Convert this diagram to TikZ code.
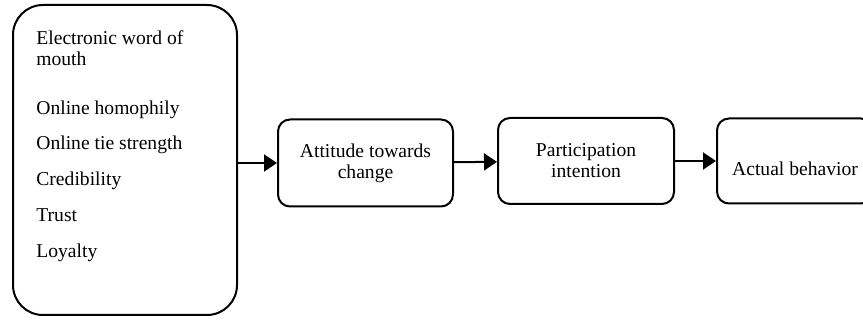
\documentclass[tikz,border=0pt]{standalone}
\usepackage{fontspec}
\setmainfont{Liberation Serif}
\usetikzlibrary{positioning}
\usetikzlibrary{arrows.meta}
\tikzset{
  stage/.style = {draw, line width=1pt, rounded corners=6pt, align=center, inner sep=0pt, font=\fontsize{9.8}{10.5}\selectfont},
  factorbox/.style = {stage, rounded corners=15pt, minimum width=112pt, minimum height=155pt},% left box with the factors
  factors/.style = {align=left, inner sep=0pt, font=\fontsize{9.8}{10.5}\selectfont},
  link/.style = {-{Triangle[length=6.5pt,width=8.5pt]}, line width=1pt}
}
\begin{document}
\begin{tikzpicture}[x=0.5pt,y=-0.5pt]
\useasboundingbox (0,0) rectangle (863,320);
\clip (0,0) rectangle (863,320);
\node [factorbox] (ewom) at (125,160) {};
\node [factors, below right=13pt and 12pt of ewom.north west] (ewomitems)
    {Electronic word of\\mouth\\[14pt]
     Online homophily\\[7.4pt]
     Online tie strength\\[7.4pt]
     Credibility\\[7.4pt]
     Trust\\[7.4pt]
     Loyalty};
\node [stage, minimum width=87.5pt, minimum height=43.5pt, right=19.5pt of ewom, yshift=-1.5pt] (attitude) {Attitude towards\\change};
\node [stage, minimum width=88pt, minimum height=43pt, right=21.5pt of attitude, yshift=1pt] (intention) {Participation\\intention};
\node [stage, minimum width=78pt, minimum height=42.5pt, text height=14.7pt, right=20.5pt of intention] (behavior) {Actual behavior};
\draw [link] (ewom.east |- attitude) -- (attitude);
\draw [link] (attitude) -- (intention);
\draw [link] (intention) -- (behavior);
\end{tikzpicture}
\end{document}
